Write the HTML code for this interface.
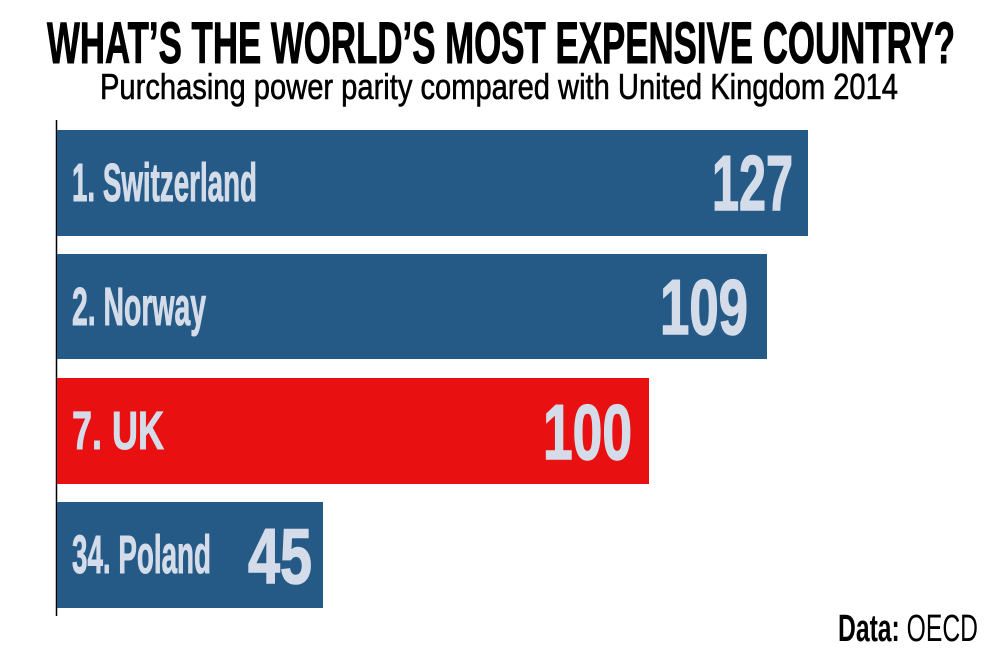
<!DOCTYPE html>
<html><head><meta charset="utf-8"><style>
html,body{margin:0;padding:0;background:#fff;}
svg{display:block;}
text{font-family:"Liberation Sans Narrow","Liberation Sans",sans-serif;font-weight:bold;}
</style></head><body>
<svg width="1000" height="667" viewBox="0 0 1000 667">
<text x="47" y="63" font-size="58" fill="#000" stroke="#000" stroke-width="1" textLength="908" lengthAdjust="spacingAndGlyphs">WHAT’S THE WORLD’S MOST EXPENSIVE COUNTRY?</text>
<text x="100" y="99" font-size="36" fill="#000" stroke="#000" stroke-width="0.6" style="font-weight:normal" textLength="798" lengthAdjust="spacingAndGlyphs">Purchasing power parity compared with United Kingdom 2014</text>
<line x1="56.5" y1="120" x2="56.5" y2="616" stroke="#000" stroke-width="1.5"/>
<rect x="57" y="130" width="751" height="106" fill="#255a87"/>
<rect x="57" y="254" width="710" height="105" fill="#255a87"/>
<rect x="57" y="378" width="592" height="106" fill="#e81010"/>
<rect x="57" y="502" width="266" height="106" fill="#255a87"/>
<g fill="#d3dce8" stroke="#d3dce8" stroke-width="1" font-size="54">
<text x="72" y="201" textLength="185" lengthAdjust="spacingAndGlyphs">1. Switzerland</text>
<text x="72" y="325" textLength="134" lengthAdjust="spacingAndGlyphs">2. Norway</text>
<text x="72" y="449" textLength="92" lengthAdjust="spacingAndGlyphs">7. UK</text>
<text x="72" y="573" textLength="139" lengthAdjust="spacingAndGlyphs">34. Poland</text>
</g>
<g fill="#d3dce8" stroke="#d3dce8" stroke-width="1.5" font-size="78">
<text x="712" y="210" textLength="81" lengthAdjust="spacingAndGlyphs">127</text>
<text x="660" y="334" textLength="88" lengthAdjust="spacingAndGlyphs">109</text>
<text x="543" y="459" textLength="89" lengthAdjust="spacingAndGlyphs">100</text>
<text x="248" y="583" textLength="64" lengthAdjust="spacingAndGlyphs">45</text>
</g>
<text x="838" y="641" font-size="38" fill="#000" textLength="140" lengthAdjust="spacingAndGlyphs">Data: <tspan style="font-weight:normal">OECD</tspan></text>
</svg>
</body></html>
